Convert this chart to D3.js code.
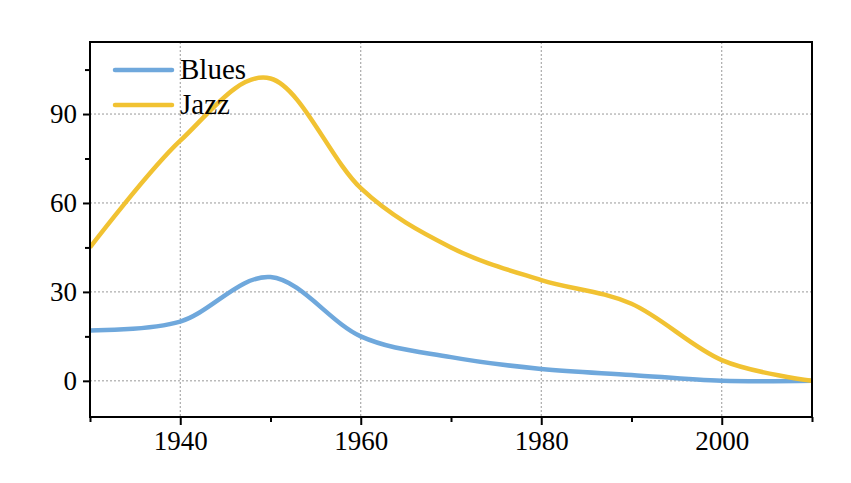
<!DOCTYPE html>
<html>
<head>
<meta charset="utf-8">
<script src="https://cdn.jsdelivr.net/npm/d3@7"></script>
<style>
  body { margin: 0; background: #fff; }
  text { font-family: "Liberation Serif", "Times New Roman", serif; }
</style>
</head>
<body>
<div id="chart"></div>
<script>
// chart data
var years = [1930, 1940, 1950, 1960, 1970, 1980, 1990, 2000, 2010];
var blues = [17, 20, 35, 15, 8, 4, 2, 0, 0];
var jazz = [45, 81, 102, 65, 45, 34, 26, 7, 0];
var seriesNames = ["Blues", "Jazz"];
var xTicks = [1940, 1960, 1980, 2000];
var yTicks = [0, 30, 60, 90];

var width = 851, height = 483;
var margin = { top: 42, right: 39, bottom: 66, left: 90 };
var w = width - margin.left - margin.right,
  h = height - margin.top - margin.bottom;

var svg = d3.select("#chart").append("svg")
  .attr("width", width).attr("height", height);
var g = svg.append("g")
  .attr("transform", "translate(" + margin.left + "," + margin.top + ")");

var x = d3.scaleLinear().domain([1930, 2010]).range([0, w]);
var y = d3.scaleLinear().domain([-12.2, 114.3]).range([h, 0]);

// grid
g.selectAll(".vgrid").data(xTicks).enter().append("line")
  .attr("x1", d => x(d)).attr("x2", d => x(d))
  .attr("y1", 0).attr("y2", h)
  .attr("stroke", "#999").attr("stroke-width", 1).attr("stroke-dasharray", "2,2");
g.selectAll(".hgrid").data(yTicks).enter().append("line")
  .attr("y1", d => y(d)).attr("y2", d => y(d))
  .attr("x1", 0).attr("x2", w)
  .attr("stroke", "#999").attr("stroke-width", 1).attr("stroke-dasharray", "2,2");

// lines
var colors = ["#6fa8dc", "#f1c232"];
var seriesData = [blues, jazz];
var line = d3.line()
  .x((d, i) => x(years[i]))
  .y(d => y(d))
  .curve(d3.curveCardinal.tension(0));

g.append("clipPath").attr("id", "clip").append("rect")
  .attr("width", w).attr("height", h);

seriesData.forEach(function (s, i) {
  g.append("path")
    .datum(s)
    .attr("clip-path", "url(#clip)")
    .attr("fill", "none")
    .attr("stroke", colors[i])
    .attr("stroke-width", 4.5)
    .attr("d", line);
});

// axes
var xAxis = d3.axisBottom(x).tickValues(xTicks).tickFormat(d3.format("d"))
  .tickSize(8).tickPadding(6);
var xMinor = d3.axisBottom(x).tickValues([1930, 1950, 1970, 1990, 2010])
  .tickFormat("").tickSize(5);
var yAxis = d3.axisLeft(y).tickValues(yTicks).tickSize(7).tickPadding(6);
var yMinor = d3.axisLeft(y).tickValues([-15, 15, 45, 75, 105]).tickFormat("").tickSize(5);

function styleAxis(sel) {
  sel.select(".domain").remove();
  sel.selectAll(".tick line").attr("stroke", "#000").attr("stroke-width", 2);
  sel.selectAll("text")
    .attr("fill", "#000")
    .style("font-family", "'Liberation Serif', serif")
    .style("font-size", "27px");
}

g.append("g").attr("transform", "translate(0," + h + ")").call(xAxis).call(styleAxis);
g.append("g").attr("transform", "translate(0," + h + ")").call(xMinor).call(styleAxis);
g.append("g").call(yAxis).call(styleAxis);
g.append("g").call(yMinor).call(styleAxis)
  .selectAll(".tick").filter(d => y(d) > h).remove();

// frame
g.append("rect")
  .attr("width", w).attr("height", h)
  .attr("fill", "none").attr("stroke", "#000").attr("stroke-width", 2);

// legend
var legend = g.append("g").attr("transform", "translate(25,28)");
seriesNames.forEach(function (name, i) {
  legend.append("line")
    .attr("x1", 0).attr("x2", 57)
    .attr("y1", i * 35).attr("y2", i * 35)
    .attr("stroke", colors[i]).attr("stroke-width", 4.5)
    .attr("stroke-linecap", "round");
  legend.append("text")
    .attr("x", 65).attr("y", i * 35)
    .attr("dy", "0.32em")
    .style("font-size", "29px")
    .attr("fill", "#000")
    .text(name);
});
</script>
</body>
</html>
